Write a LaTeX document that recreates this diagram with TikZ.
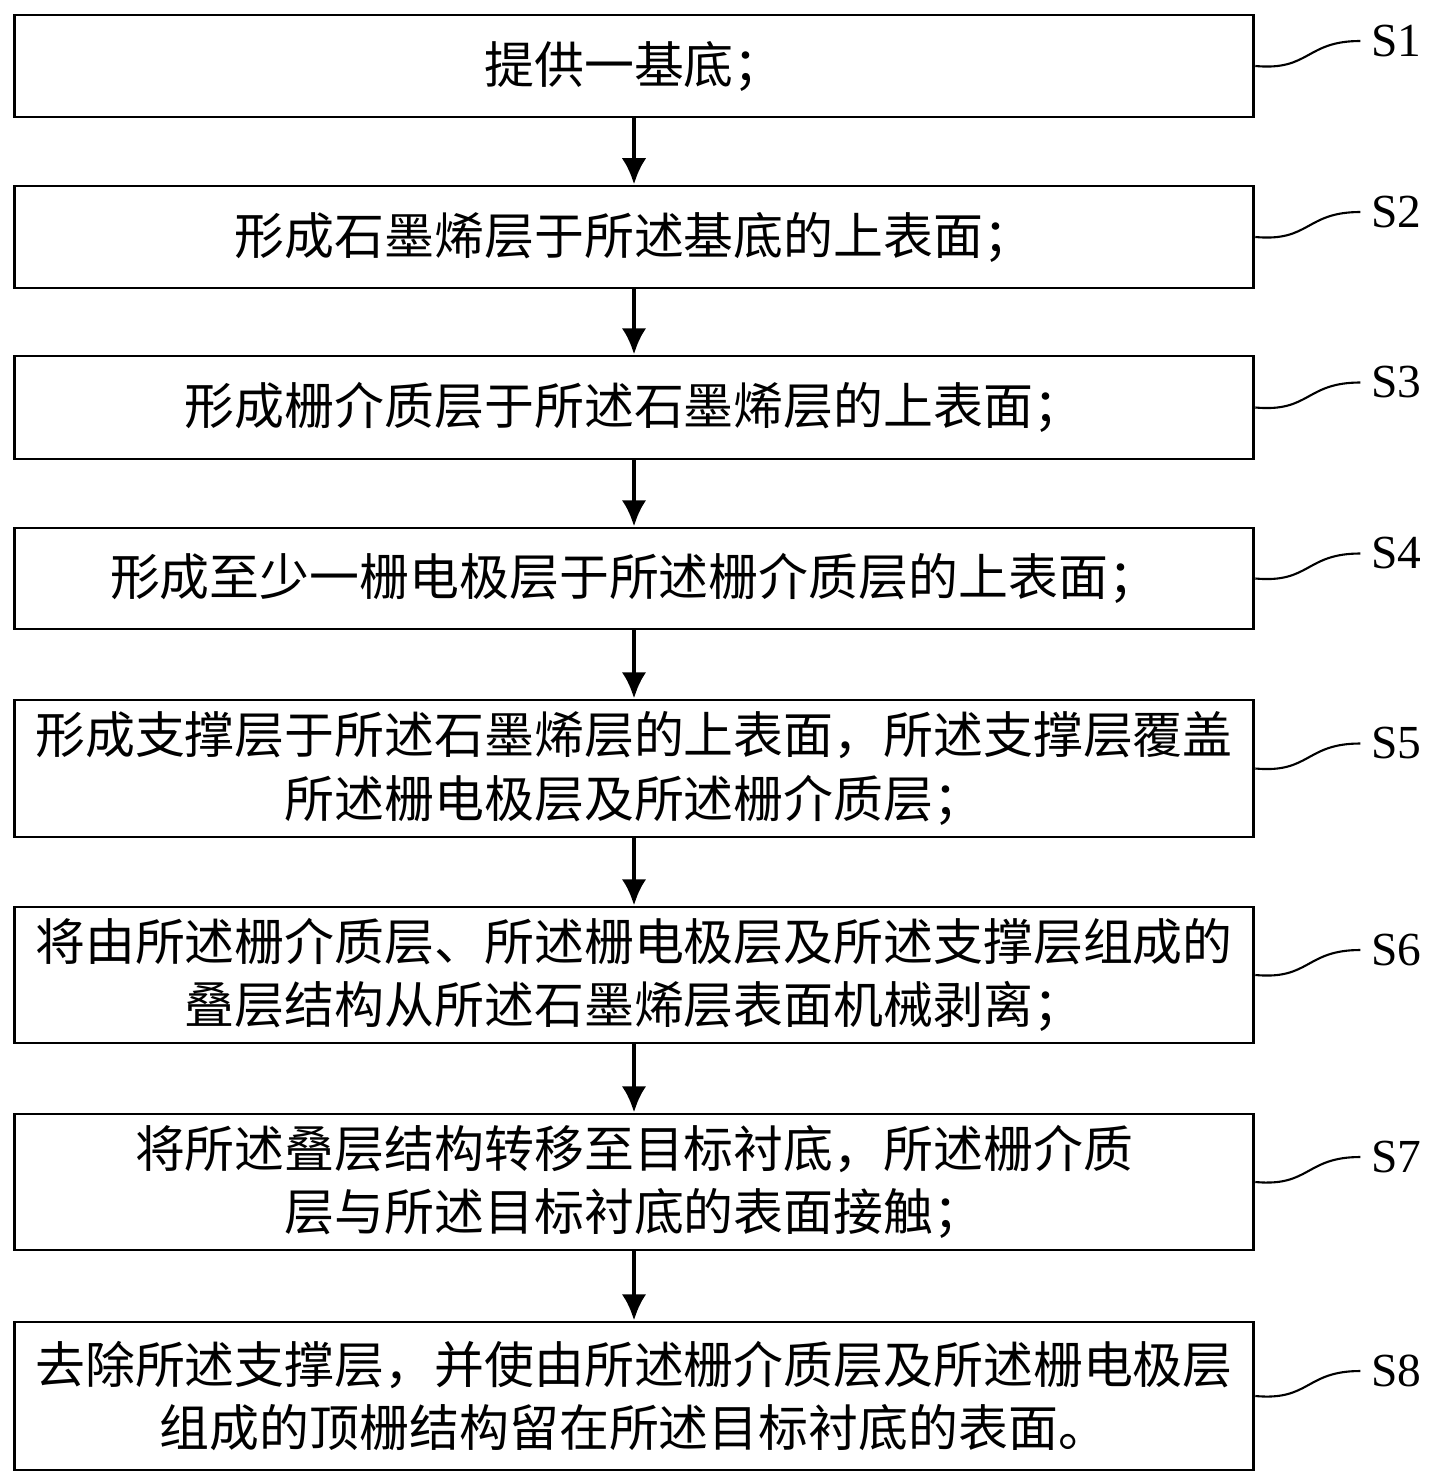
\documentclass[tikz,border=0pt]{standalone}
\usepackage{fontspec}
\setmainfont{Liberation Serif}
\newfontfamily\cjk{Noto Sans CJK SC}
\usetikzlibrary{positioning,arrows.meta}
\tikzset{
	stepbox/.style={draw,line width=1.6pt,minimum width=24.8cm,inner sep=0pt,
		font=\cjk\fontsize{28.4}{36}\selectfont,align=center},
	flow/.style={-{Latex[length=15pt,width=14pt]},line width=2.6pt},
	tag/.style={font=\fontsize{27}{30}\selectfont,anchor=west},
}
\begin{document}
\begin{tikzpicture}[x=0.02cm,y=-0.02cm]
\useasboundingbox (0,0) rectangle (1440,1483);

\node[stepbox,minimum height=2.04cm] (s1) at (634,66) {提供一基底；};
\node[stepbox,minimum height=2.04cm] (s2) at (634,237) {形成石墨烯层于所述基底的上表面；};
\node[stepbox,minimum height=2.06cm] (s3) at (634,407.5) {形成栅介质层于所述石墨烯层的上表面；};
\node[stepbox,minimum height=2.02cm] (s4) at (634,578.5) {形成至少一栅电极层于所述栅介质层的上表面；};
\node[stepbox,minimum height=2.74cm] (s5) at (634,768.5) {形成支撑层于所述石墨烯层的上表面，所述支撑层覆盖\\所述栅电极层及所述栅介质层；};
\node[stepbox,minimum height=2.72cm] (s6) at (634,975) {将由所述栅介质层、所述栅电极层及所述支撑层组成的\\叠层结构从所述石墨烯层表面机械剥离；};
\node[stepbox,minimum height=2.72cm] (s7) at (634,1182) {将所述叠层结构转移至目标衬底，所述栅介质\\层与所述目标衬底的表面接触；};
\node[stepbox,minimum height=2.96cm] (s8) at (634,1396) {去除所述支撑层，并使由所述栅介质层及所述栅电极层\\组成的顶栅结构留在所述目标衬底的表面。};

\foreach \a/\b in {s1/s2,s2/s3,s3/s4,s4/s5,s5/s6,s6/s7,s7/s8}
	\draw[flow] (\a) -- (\b);

\foreach \s/\t in {s1/S1,s2/S2,s3/S3,s4/S4,s5/S5,s6/S6,s7/S7,s8/S8}{
	\coordinate (\s e) at ([xshift=2.1cm,yshift=0.5cm]\s.east);
	\draw[line width=1.2pt] (\s.east) .. controls ++(1.1cm,-0.1cm) and ++(-1.1cm,0cm) .. (\s e);
	\node[tag] (\s t) at ([xshift=0.1cm]\s e) {\t};
}
\end{tikzpicture}
\end{document}
